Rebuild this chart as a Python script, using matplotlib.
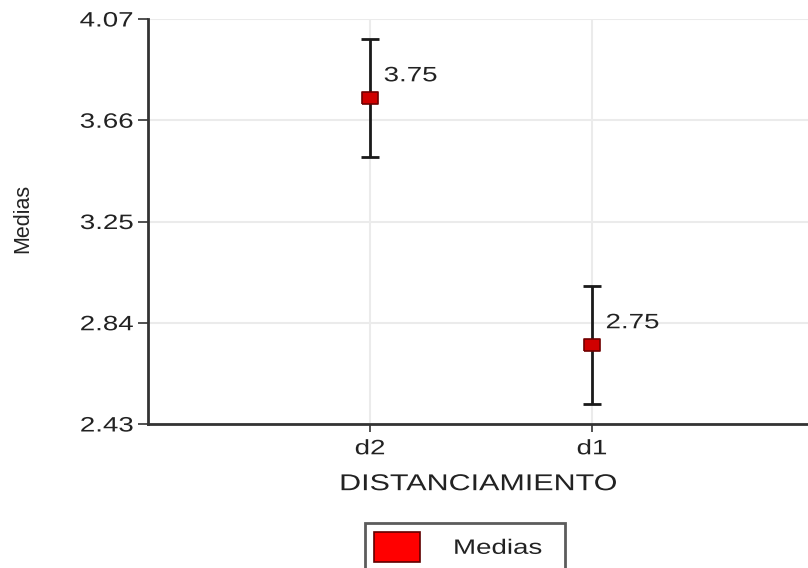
import matplotlib
matplotlib.use("Agg")
import matplotlib.pyplot as plt
from matplotlib.patches import Patch
from matplotlib.patheffects import AbstractPathEffect
from matplotlib.transforms import Affine2D

plt.rcParams['font.family'] = ['Liberation Sans', 'DejaVu Sans']

categories = ["d2", "d1"]
means = [3.75, 2.75]
lower = [3.51, 2.51]
upper = [3.99, 2.99]
yticks = [2.43, 2.84, 3.25, 3.66, 4.07]


class HStretch(AbstractPathEffect):
    """Draw text stretched horizontally (the reference text is wide)."""
    def __init__(self, sx=1.33, anchor='center'):
        super().__init__()
        self.sx = sx
        self.anchor = anchor

    def draw_path(self, renderer, gc, tpath, affine, rgbFace=None):
        ext = tpath.get_extents(affine)
        if self.anchor == 'left':
            cx = ext.x0
        elif self.anchor == 'right':
            cx = ext.x1
        else:
            cx = 0.5 * (ext.x0 + ext.x1)
        new = affine + Affine2D().translate(-cx, 0).scale(self.sx, 1).translate(cx, 0)
        renderer.draw_path(gc, tpath, new, rgbFace)


SX = 1.33
FS = 15
TXT = '#222222'

fig = plt.figure(figsize=(8.08, 5.68), dpi=100)
ax = fig.add_axes([148 / 808, 144 / 568, 660 / 808, 405 / 568])

x = [1, 2]
err_lo = [m - l for m, l in zip(means, lower)]
err_hi = [u - m for m, u in zip(means, upper)]
ax.errorbar(x, means, yerr=[err_lo, err_hi], fmt='none', ecolor='#1a1a1a',
            elinewidth=2, capsize=6.5, capthick=2, zorder=3)
rect_marker = [(-1.3, -1), (1.3, -1), (1.3, 1), (-1.3, 1), (-1.3, -1)]
ax.plot(x, means, linestyle='none', marker=rect_marker, markersize=11,
        markerfacecolor='#d00000', markeredgecolor='#700000',
        markeredgewidth=1.2, zorder=4)
for xi, m in zip(x, means):
    t = ax.annotate(f"{m:.2f}", (xi, m), xytext=(10, 16), textcoords='offset points',
                    fontsize=FS, color=TXT, va='center', ha='left')
    t.set_path_effects([HStretch(SX, 'left')])

ax.set_xlim(0, 660 / 222)
ax.set_ylim(2.43, 4.07)
ax.set_xticks(x)
ax.set_xticklabels(categories, fontsize=FS, color=TXT)
ax.set_yticks(yticks)
ax.set_yticklabels([f"{t:.2f}" for t in yticks], fontsize=FS, color=TXT)
for lbl in ax.get_xticklabels():
    lbl.set_path_effects([HStretch(SX, 'center')])
for lbl in ax.get_yticklabels():
    lbl.set_path_effects([HStretch(SX, 'right')])

ax.grid(True, color='#ebebeb', linewidth=1.5)
ax.set_axisbelow(True)
for s in ['top', 'right']:
    ax.spines[s].set_visible(False)
ax.spines['left'].set_linewidth(2)
ax.spines['bottom'].set_linewidth(2)
ax.spines['left'].set_color('#333333')
ax.spines['bottom'].set_color('#333333')
ax.tick_params(axis='y', direction='out', length=7.5, width=1.2, color='#333333', pad=3)
ax.tick_params(axis='x', direction='out', length=6, width=1.2, color='#333333', pad=5)

xl = ax.set_xlabel("DISTANCIAMIENTO", fontsize=16.5, color=TXT, labelpad=10)
xl.set_path_effects([HStretch(SX, 'center')])
ax.set_ylabel("Medias", fontsize=15.5, color=TXT, va='center')
ax.yaxis.set_label_coords((23 - 148) / 660, (424 - 218) / 405)

handle = Patch(facecolor='#ff0000', edgecolor='#600000', linewidth=1.2, label='Medias')
leg = fig.legend(handles=[handle], loc='upper left',
                 bbox_to_anchor=(365 / 808, 0.0, 200 / 808, 45 / 568),
                 mode='expand', borderaxespad=0,
                 frameon=True, fancybox=False, edgecolor='#333333', fontsize=FS,
                 handlelength=2.2, handleheight=1.8, borderpad=0.45,
                 handletextpad=1.6)
leg.get_frame().set_linewidth(2)
for t in leg.get_texts():
    t.set_color(TXT)
    t.set_path_effects([HStretch(SX, 'left')])

fig.savefig("out.png", dpi=100)
